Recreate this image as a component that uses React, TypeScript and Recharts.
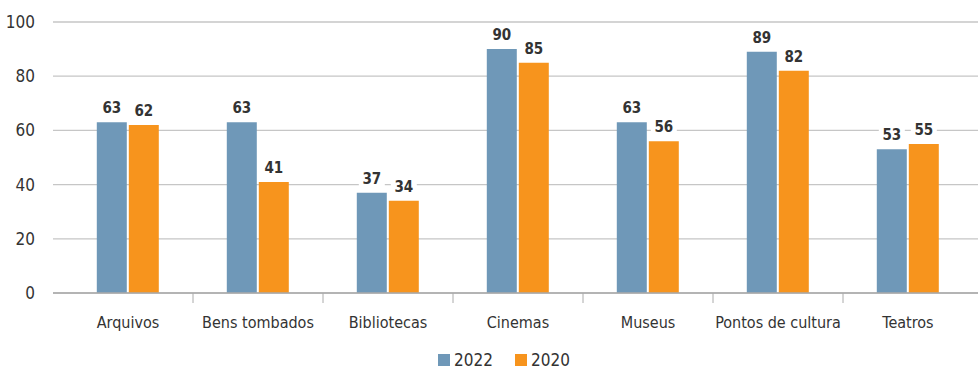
import React from "react";
import {
  BarChart,
  Bar,
  XAxis,
  YAxis,
  CartesianGrid,
  Legend,
  LabelList,
} from "recharts";

// categories and values
const categories = [
  "Arquivos",
  "Bens tombados",
  "Bibliotecas",
  "Cinemas",
  "Museus",
  "Pontos de cultura",
  "Teatros",
];
const values2022 = [63, 63, 37, 90, 63, 89, 53];
const values2020 = [62, 41, 34, 85, 56, 82, 55];
const yTicks = [0, 20, 40, 60, 80, 100];

const BLUE = "#6f98b8";
const ORANGE = "#f7941d";
const FONT = "'DejaVu Sans Condensed', 'Roboto', sans-serif";

const data = categories.map((name, i) => ({
  name,
  y2022: values2022[i],
  y2020: values2020[i],
}));

// value label with a white box behind it, so gridlines break around the text
const ValueLabel = (props: any) => {
  const { x, y, width, value } = props;
  const cx = x + width / 2;
  return (
    <g>
      <rect x={cx - 13} y={y - 24} width={26} height={18} fill="#fff" />
      <text
        x={cx}
        y={y - 9}
        textAnchor="middle"
        fontFamily={FONT}
        fontSize={15}
        fontWeight={700}
        fill="#333"
      >
        {value}
      </text>
    </g>
  );
};

// category label plus a separator tick at the right edge of each band
const CategoryTick = (props: any) => {
  const { x, y, payload, index } = props;
  const half = 65;
  return (
    <g>
      {index < categories.length - 1 && (
        <line x1={x + half} x2={x + half} y1={y - 8} y2={y + 2} stroke="#aaa" />
      )}
      <text
        x={x}
        y={y + 27}
        textAnchor="middle"
        fontFamily={FONT}
        fontSize={16}
        fill="#333"
      >
        {payload.value}
      </text>
    </g>
  );
};

const LegendContent = () => (
  <div
    style={{
      display: "flex",
      justifyContent: "center",
      gap: 22,
      fontFamily: FONT,
      fontSize: 17,
      color: "#333",
      paddingLeft: 30,
    }}
  >
    {[
      { label: "2022", color: BLUE },
      { label: "2020", color: ORANGE },
    ].map((s) => (
      <span key={s.label} style={{ display: "flex", alignItems: "center" }}>
        <span
          style={{
            display: "inline-block",
            width: 12,
            height: 12,
            background: s.color,
            marginRight: 4,
          }}
        />
        {s.label}
      </span>
    ))}
  </div>
);

export default function App() {
  return (
    <div style={{ position: "absolute", left: 0, top: 0, width: 978, height: 370 }}>
      <BarChart
        width={978}
        height={370}
        data={data}
        margin={{ top: 22, right: 0, left: 0, bottom: 0 }}
        barCategoryGap="26%"
        barGap={2}
      >
        <CartesianGrid vertical={false} stroke="#c6c6c6" strokeWidth={1.3} />
        <XAxis
          dataKey="name"
          tick={<CategoryTick />}
          tickLine={false}
          axisLine={{ stroke: "#aaa", strokeWidth: 1.3 }}
          padding={{ left: 10, right: 5 }}
          height={57}
          interval={0}
        />
        <YAxis
          domain={[0, 100]}
          ticks={yTicks}
          width={53}
          axisLine={false}
          tickLine={false}
          tickMargin={12}
          tick={{ fontFamily: FONT, fontSize: 17, fill: "#333" }}
        />
        <Legend verticalAlign="bottom" content={<LegendContent />} />
        <Bar dataKey="y2022" name="2022" fill={BLUE} isAnimationActive={false}>
          <LabelList dataKey="y2022" content={<ValueLabel />} />
        </Bar>
        <Bar dataKey="y2020" name="2020" fill={ORANGE} isAnimationActive={false}>
          <LabelList dataKey="y2020" content={<ValueLabel />} />
        </Bar>
      </BarChart>
    </div>
  );
}
